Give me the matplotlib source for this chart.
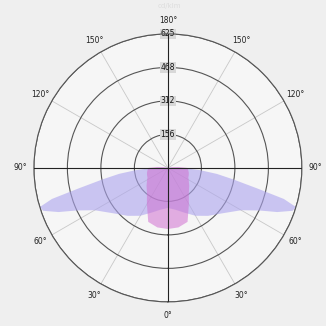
import numpy as np
import matplotlib
matplotlib.use("Agg")
import matplotlib.pyplot as plt

# angulos gamma (0 = nadir) e intensidades em cd
gamma = [0, 10, 20, 30, 40, 50, 60, 65, 68, 71, 73, 75, 77, 80, 83, 86, 88, 90, 95, 100, 110, 180]
c0_180 = [187, 198, 222, 258, 292, 330, 395, 470, 550, 615, 625, 560, 430, 310, 230, 150, 95, 50, 12, 0, 0, 0]
c90_270 = [285, 282, 268, 196, 152, 130, 112, 105, 104, 103, 102, 101, 100, 98, 96, 94, 92, 90, 50, 20, 0, 0]

ring_vals = [156.25, 312.5, 468.75, 625]
ring_labels = ["156", "312", "468", "625"]
angle_ticks = [0, 30, 60, 90, 120, 150, 180, 210, 240, 270, 300, 330]
angle_labels = ["0°", "30°", "60°", "90°", "120°", "150°", "180°", "150°", "120°", "90°", "60°", "30°"]


def mirror(g, v):
    g = np.radians(np.array(g, dtype=float))
    v = np.array(v, dtype=float)
    th = np.concatenate([-g[::-1], g[1:]])
    r = np.concatenate([v[::-1], v[1:]])
    return th, r


fig = plt.figure(figsize=(3.26, 3.26), dpi=100, facecolor="#efefef")
ax = fig.add_axes([0.104, 0.074, 0.822, 0.822], projection="polar")
ax.set_facecolor("#f6f6f6")
ax.set_theta_zero_location("S")
ax.set_theta_direction(-1)
ax.set_ylim(0, 625)

th, r = mirror(gamma, c0_180)
ax.fill(th, r, color="#aca4ee", alpha=0.6, lw=0, zorder=2)
th, r = mirror(gamma, c90_270)
ax.fill(th, r, color="#d070d0", alpha=0.55, lw=0, zorder=3)

# grade
ax.set_thetagrids(angle_ticks, angle_labels, fontsize=5.5, color="#222222")
ax.tick_params(axis="x", pad=-1)
ax.set_rgrids(ring_vals, ring_labels, angle=180, fontsize=5.5, color="#111111")
for t in ax.yaxis.get_ticklabels():
    t.set_bbox(dict(facecolor="#d8d8d8", edgecolor="none", pad=0.5))
    t.set_ha("center")
    t.set_va("center")
ax.xaxis.grid(True, color="#c8c8c8", lw=0.6)
ax.yaxis.grid(True, color="#555555", lw=0.8)
ax.spines["polar"].set_color("#555555")
ax.spines["polar"].set_linewidth(0.8)
for a in [0, 90, 180, 270]:
    ax.axvline(np.radians(a), color="#222222", lw=0.8, zorder=4)

fig.text(0.52, 0.99, "cd/klm", fontsize=5, color="#dddddd", ha="center", va="top")

fig.savefig("out.png", dpi=100, facecolor=fig.get_facecolor())
